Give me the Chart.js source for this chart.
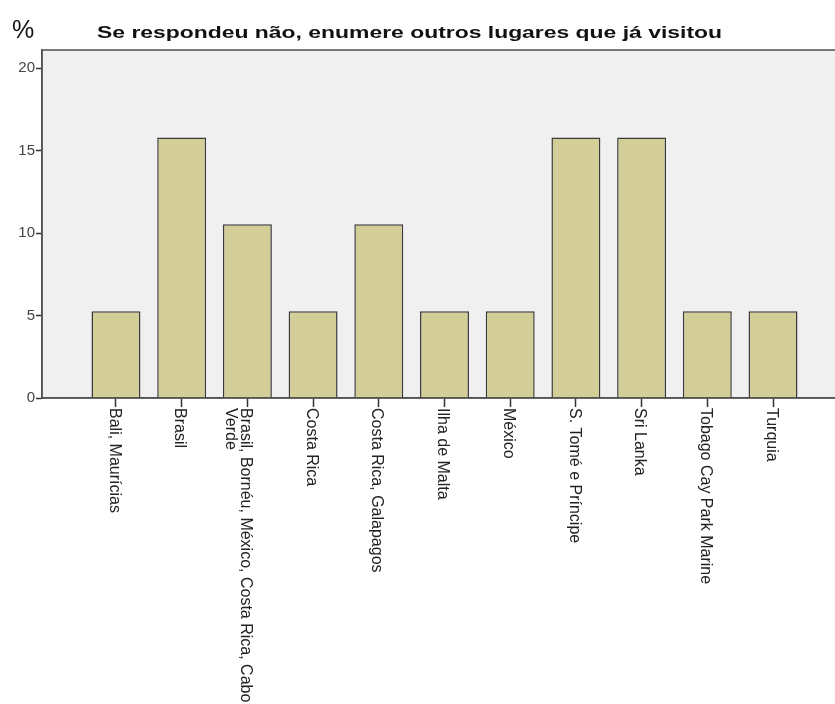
<!DOCTYPE html>
<html>
<head>
<meta charset="utf-8">
<script src="https://cdn.jsdelivr.net/npm/chart.js@4.4.0/dist/chart.umd.min.js"></script>
<style>
  html, body { margin: 0; padding: 0; background: #fff; overflow: hidden; }
  #wrap { width: 880px; height: 704px; }
</style>
</head>
<body>
<div id="wrap"><canvas id="Chart"></canvas></div>
<script>
// dados (% de respostas)
const lugares = [
  ["Bali, Maurícias"],
  ["Brasil"],
  ["Brasil, Bornéu, México, Costa Rica, Cabo", "Verde"],
  ["Costa Rica"],
  ["Costa Rica, Galapagos"],
  ["Ilha de Malta"],
  ["México"],
  ["S. Tomé e Príncipe"],
  ["Sri Lanka"],
  ["Tobago Cay Park Marine"],
  ["Turquia"]
];
const percentagens = [5.26, 15.79, 10.53, 5.26, 10.53, 5.26, 5.26, 15.79, 15.79, 5.26, 5.26];
const yTicks = [0, 5, 10, 15, 20];
const titulo = "Se respondeu não, enumere outros lugares que já visitou";
const yTitulo = "%";

const FONT = "Arial, 'Liberation Sans', sans-serif";

// fundo cinzento + moldura da área do gráfico
const plotFrame = {
  id: "plotFrame",
  beforeDraw(chart) {
    const { ctx, chartArea: a } = chart;
    ctx.save();
    ctx.fillStyle = "#f0f0f0";
    ctx.fillRect(a.left, a.top, a.right - a.left, a.bottom - a.top);
    ctx.restore();
  },
  afterDraw(chart) {
    const { ctx, chartArea: a } = chart;
    ctx.save();
    ctx.strokeStyle = "#505050";
    ctx.lineWidth = 1.5;
    ctx.strokeRect(a.left, a.top, a.right - a.left, a.bottom - a.top);
    ctx.restore();
  }
};

// títulos e rótulos verticais (lidos de cima para baixo)
const textos = {
  id: "textos",
  afterDraw(chart) {
    const { ctx } = chart;
    const xs = chart.scales.x;
    ctx.save();
    ctx.fillStyle = "#111";
    ctx.textBaseline = "alphabetic";
    ctx.textAlign = "left";
    // título um pouco esticado na horizontal, como no original
    ctx.font = "bold 17px " + FONT;
    const w = ctx.measureText(titulo).width;
    ctx.save();
    ctx.translate(97, 38);
    ctx.scale(625 / w, 1);
    ctx.fillText(titulo, 0, 0);
    ctx.restore();
    ctx.font = "25px " + FONT;
    ctx.fillText(yTitulo, 12, 38);

    ctx.font = "16px " + FONT;
    ctx.fillStyle = "#222";
    ctx.textBaseline = "middle";
    lugares.forEach((linhas, i) => {
      const x = xs.getPixelForValue(i);
      ctx.save();
      ctx.translate(x - 2, chart.chartArea.bottom + 10);
      ctx.rotate(Math.PI / 2);
      linhas.forEach((l, j) => ctx.fillText(l, 0, j * 15));
      ctx.restore();
    });
    ctx.restore();
  }
};

const c = document.getElementById("Chart");
new Chart(c, {
  type: "bar",
  data: {
    datasets: [{
      data: percentagens.map((v, i) => ({ x: i, y: v })),
      backgroundColor: "#d3ce97",
      borderColor: "#3a3a3a",
      borderWidth: 1.5,
      barPercentage: 1,
      categoryPercentage: 0.745
    }]
  },
  options: {
    responsive: true,
    maintainAspectRatio: false,
    animation: false,
    layout: { padding: { top: 50, right: 33, left: 0, bottom: 0 } },
    plugins: { legend: { display: false }, tooltip: { enabled: false }, title: { display: false } },
    scales: {
      x: {
        type: "linear",
        offset: false,
        min: -1.126,
        max: 11.126,
        afterBuildTicks: (s) => { s.ticks = lugares.map((l, i) => ({ value: i })); },
        afterFit: (s) => { s.height = 306; },
        ticks: { stepSize: 1, includeBounds: false, callback: () => "" },
        grid: { offset: false, drawOnChartArea: false, drawTicks: true, tickLength: 9, tickColor: "#333", tickWidth: 1.5 },
        border: { display: true, color: "#505050", width: 1.5 }
      },
      y: {
        min: 0,
        max: 21.1,
        afterBuildTicks: (s) => { s.ticks = yTicks.map(v => ({ value: v })); },
        afterFit: (s) => { s.width = 42; },
        ticks: { color: "#444", font: { size: 15, family: FONT }, padding: 1 },
        grid: { drawOnChartArea: false, drawTicks: true, tickLength: 6, tickColor: "#333", tickWidth: 1.5 },
        border: { display: true, color: "#505050", width: 1.5 }
      }
    }
  },
  plugins: [plotFrame, textos]
});
</script>
</body>
</html>
